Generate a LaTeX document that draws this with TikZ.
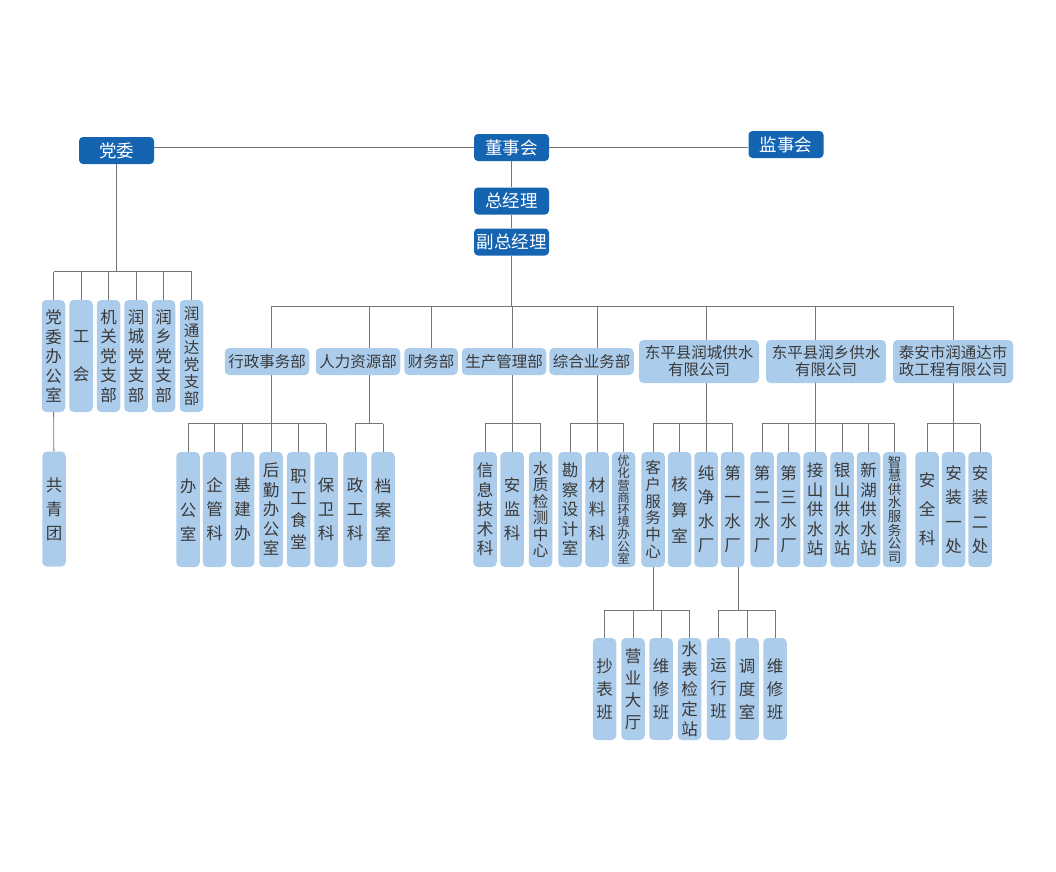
\documentclass[tikz,border=0pt]{standalone}
\usepackage{fontspec}
\setmainfont{Noto Sans CJK SC}
\usepackage{xcolor}

\definecolor{deepblue}{RGB}{20,100,178}
\definecolor{paleblue}{RGB}{172,204,235}
\definecolor{inkgray}{RGB}{58,58,58}
\definecolor{wiregray}{RGB}{118,118,118}

\tikzset{
  lead/.style={fill=deepblue, text=white, rounded corners=4pt, minimum width=75pt, minimum height=27pt, inner sep=0pt, font=\fontsize{17.5}{17.5}\selectfont},
  cell/.style={fill=paleblue, text=inkgray, rounded corners=4.5pt},
  dept/.style={cell, minimum height=27pt, inner xsep=3.5pt, inner ysep=0pt, font=\fontsize{15.5}{15.5}\selectfont},
  firm/.style={cell, minimum width=120pt, minimum height=43pt, inner sep=0pt, align=center, font=\fontsize{15.5}{17}\selectfont},
  vbox/.style={cell, minimum width=23.5pt, minimum height=115pt, inner sep=0pt, align=center, font=\fontsize{16.5}{#1}\selectfont},
  vbox/.default=19.5,
  wire/.style={draw=wiregray, line width=0.9pt}
}

\begin{document}
\begin{tikzpicture}[x=1pt, y=-1pt]

    \useasboundingbox (0,0) rectangle (1056,871);

    % levels of the horizontal bars
    \coordinate (lvA) at (0,271.5);
    \coordinate (bus) at (511.5,306);
    \coordinate (lvB) at (0,423.5);
    \coordinate (lvC) at (0,610);

    % top
    \node[lead] (dangwei) at (116.5,150.5) {党委};
    \node[lead] (dongshi) at (511.5,147.5) {董事会};
    \node[lead] (jianshi) at (786,144.5) {监事会};
    \node[lead] (zong) at (511.5,201) {总经理};
    \node[lead] (fuzong) at (511.5,242) {副总经理};

    % party branch
    \node[vbox, minimum height=112pt] (dwb) at (53.5,356) {党\\委\\办\\公\\室};
    \node[vbox=38, minimum height=112pt] (gh) at (81,356) {工\\会};
    \node[vbox, minimum height=112pt] (jg) at (108.5,356) {机\\关\\党\\支\\部};
    \node[vbox, minimum height=112pt] (rcd) at (136,356) {润\\城\\党\\支\\部};
    \node[vbox, minimum height=112pt] (rxd) at (163.5,356) {润\\乡\\党\\支\\部};
    \node[vbox=17, minimum height=112pt, font=\fontsize{15.5}{17}\selectfont] (rtd) at (191.5,356) {润\\通\\达\\党\\支\\部};
    \node[vbox=24] (gqt) at (54,509) {共\\青\\团};

    % departments and companies
    \node[dept] (xz) at (267,361.5) {行政事务部};
    \node[dept] (hr) at (358,361.5) {人力资源部};
    \node[dept] (cw) at (431,361.5) {财务部};
    \node[dept] (sc) at (504,361.5) {生产管理部};
    \node[dept] (zh) at (591.5,361.5) {综合业务部};
    \node[firm] (rc) at (699,361.5) {东平县润城供水\\有限公司};
    \node[firm] (rx) at (826,361.5) {东平县润乡供水\\有限公司};
    \node[firm] (ta) at (953,361.5) {泰安市润通达市\\政工程有限公司};
    \coordinate (hrx) at (369,423.5);

    % sections
    \node[vbox=24] (bgs) at (188,509.5) {办\\公\\室};
    \node[vbox=24] (qgk) at (214.5,509.5) {企\\管\\科};
    \node[vbox=24] (jjb) at (242.5,509.5) {基\\建\\办};
    \node[vbox] (hq) at (271,509.5) {后\\勤\\办\\公\\室};
    \node[vbox=22] (zgst) at (298.5,509.5) {职\\工\\食\\堂};
    \node[vbox=24] (bwk) at (326,509.5) {保\\卫\\科};
    \node[vbox=24] (zgk) at (355,509.5) {政\\工\\科};
    \node[vbox=24] (daj) at (383,509.5) {档\\案\\室};

    \node[vbox] (xxk) at (485,509.5) {信\\息\\技\\术\\科};
    \node[vbox=24] (ajk) at (512,509.5) {安\\监\\科};
    \node[vbox, font=\fontsize{15.5}{16.5}\selectfont] (zjc) at (540.5,509.5) {水\\质\\检\\测\\中\\心};
    \node[vbox] (kcs) at (570,509.5) {勘\\察\\设\\计\\室};
    \node[vbox=24] (clk) at (597,509.5) {材\\料\\科};
    \node[vbox, font=\fontsize{12.5}{12.2}\selectfont] (yhb) at (623.5,509.5) {优\\化\\营\\商\\环\\境\\办\\公\\室};

    \node[vbox, font=\fontsize{15.5}{16.7}\selectfont] (kf) at (653,509.5) {客\\户\\服\\务\\中\\心};
    \node[vbox=26] (hss) at (679.5,509.5) {核\\算\\室};
    \node[vbox=24] (cjs) at (706,509.5) {纯\\净\\水\\厂};
    \node[vbox=24] (dy) at (732.5,509.5) {第\\一\\水\\厂};

    \node[vbox=24] (der) at (762,509.5) {第\\二\\水\\厂};
    \node[vbox=24] (dsan) at (788.5,509.5) {第\\三\\水\\厂};
    \node[vbox] (jss) at (815,509.5) {接\\山\\供\\水\\站};
    \node[vbox] (yss) at (842,509.5) {银\\山\\供\\水\\站};
    \node[vbox] (xhs) at (868.5,509.5) {新\\湖\\供\\水\\站};
    \node[vbox, font=\fontsize{13.5}{13.6}\selectfont] (zhg) at (894.5,509.5) {智\\慧\\供\\水\\服\\务\\公\\司};

    \node[vbox=29] (aqk) at (927,509.5) {安\\全\\科};
    \node[vbox=24.5] (az1) at (953.5,509.5) {安\\装\\一\\处};
    \node[vbox=24.5] (az2) at (980,509.5) {安\\装\\二\\处};

    % teams
    \node[vbox=23, minimum height=102pt] (cbb) at (604.5,689) {抄\\表\\班};
    \node[vbox=22, minimum height=102pt] (yydt) at (633,689) {营\\业\\大\\厅};
    \node[vbox=23, minimum height=102pt] (wxb) at (661,689) {维\\修\\班};
    \node[vbox=20, minimum height=102pt] (sbj) at (689.5,689) {水\\表\\检\\定\\站};
    \node[vbox=23, minimum height=102pt] (yxb) at (718.5,689) {运\\行\\班};
    \node[vbox=23, minimum height=102pt] (dds) at (747,689) {调\\度\\室};
    \node[vbox=23, minimum height=102pt] (wxb2) at (775,689) {维\\修\\班};
    \coordinate (dyx) at (738,610);

    % connectors, top
    \draw[wire] (dongshi.west) -- (dongshi.west -| dangwei.east);
    \draw[wire] (dongshi.east) -- (dongshi.east -| jianshi.west);
    \draw[wire] (dongshi) -- (zong);
    \draw[wire] (zong) -- (fuzong);
    \draw[wire] (fuzong) -- (bus);

    % party
    \draw[wire] (dangwei) -- (dangwei |- lvA);
    \draw[wire] (dwb |- lvA) -- (rtd |- lvA);
    \foreach \n in {dwb,gh,jg,rcd,rxd,rtd}
        \draw[wire] (\n.north) -- (\n |- lvA);
    \draw[wire] (dwb) -- (gqt);

    % main bar
    \draw[wire] (hq |- bus) -- (az1 |- bus);
    \foreach \d/\p in {hq/xz, hrx/hr, cw/cw, ajk/sc, clk/zh, cjs/rc, jss/rx, az1/ta}
        \draw[wire] (\d |- bus) -- (\d |- \p.north);
    \foreach \d/\p in {hq/xz, hrx/hr, ajk/sc, clk/zh, cjs/rc, jss/rx, az1/ta}
        \draw[wire] (\d |- \p.south) -- (\d |- lvB);
    \foreach \a/\b in {bgs/bwk, zgk/daj, xxk/zjc, kcs/yhb, kf/dy, der/zhg, aqk/az2}
        \draw[wire] (\a |- lvB) -- (\b |- lvB);
    \foreach \n in {bgs,qgk,jjb,hq,zgst,bwk,zgk,daj,xxk,ajk,zjc,kcs,clk,yhb,kf,hss,cjs,dy,der,dsan,jss,yss,xhs,zhg,aqk,az1,az2}
        \draw[wire] (\n.north) -- (\n |- lvB);

    % teams
    \draw[wire] (kf) -- (kf |- lvC);
    \draw[wire] (dyx |- dy.south) -- (dyx);
    \draw[wire] (cbb |- lvC) -- (sbj |- lvC);
    \draw[wire] (yxb |- lvC) -- (wxb2 |- lvC);
    \foreach \n in {cbb,yydt,wxb,sbj,yxb,dds,wxb2}
        \draw[wire] (\n.north) -- (\n |- lvC);

\end{tikzpicture}
\end{document}
